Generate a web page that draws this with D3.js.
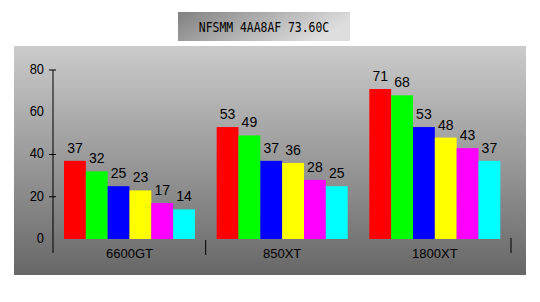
<!DOCTYPE html>
<html><head><meta charset="utf-8">
<script src="https://cdn.jsdelivr.net/npm/d3@7"></script>
<style>html,body{margin:0;padding:0;background:#fff;}svg{display:block;}</style>
</head><body>
<script>
const title = "NFSMM 4AA8AF 73.60C";
const categories = ["6600GT", "850XT", "1800XT"];
const series = ["s1", "s2", "s3", "s4", "s5", "s6"];
const colors = ["#ff0000", "#00ff00", "#0000ff", "#ffff00", "#ff00ff", "#00ffff"];
const values6600GT = [37, 32, 25, 23, 17, 14];
const values850XT = [53, 49, 37, 36, 28, 25];
const values1800XT = [71, 68, 53, 48, 43, 37];
const yTickLabels = [0, 20, 40, 60, 80];
const yTickMarks = [80, 40, 20];

const groups = [values6600GT, values850XT, values1800XT];

const W = 540, H = 302;
const svg = d3.select("body").append("svg").attr("width", W).attr("height", H);
const defs = svg.append("defs");
const pg = defs.append("linearGradient").attr("id", "panelG").attr("x1", 0).attr("y1", 0).attr("x2", 0).attr("y2", 1);
pg.append("stop").attr("offset", "0%").attr("stop-color", "#cbcbcb");
pg.append("stop").attr("offset", "100%").attr("stop-color", "#676767");
const tg = defs.append("linearGradient").attr("id", "titleG").attr("x1", 0).attr("y1", 0).attr("x2", 1).attr("y2", 0.3);
tg.append("stop").attr("offset", "0%").attr("stop-color", "#808080");
tg.append("stop").attr("offset", "100%").attr("stop-color", "#dedede");

const sans = "Liberation Sans, Arial, sans-serif";

// panel
svg.append("rect").attr("x", 14).attr("y", 46).attr("width", 512).attr("height", 229).attr("fill", "url(#panelG)");

// title box
svg.append("rect").attr("x", 178).attr("y", 12).attr("width", 172).attr("height", 29).attr("fill", "url(#titleG)");
svg.append("text").attr("x", 264).attr("y", 28).attr("text-anchor", "middle").attr("dominant-baseline", "middle")
  .attr("font-family", "DejaVu Sans Mono, monospace").attr("font-size", 12).attr("fill", "#000")
  .attr("transform", "translate(264,28) scale(0.95,1.15) translate(-264,-28)")
  .text(title);

const x0 = d3.scaleBand().domain(categories).range([53, 511]).paddingInner(0).paddingOuter(0);
const x1 = d3.scaleBand().domain(series).range([11, 142]);
const y = d3.scaleLinear().domain([0, 80]).range([239, 70]);

// y axis
svg.append("line").attr("x1", 53).attr("x2", 53).attr("y1", y(80)).attr("y2", 253).attr("stroke", "#000").attr("stroke-width", 1);
svg.selectAll(".ytm").data(yTickMarks).join("line").attr("x1", 49).attr("x2", 56)
  .attr("y1", d => y(d)).attr("y2", d => y(d)).attr("stroke", "#000");
svg.selectAll(".ytl").data(yTickLabels).join("text").attr("x", 44).attr("y", d => y(d))
  .attr("text-anchor", "end").attr("dominant-baseline", "middle")
  .attr("font-family", sans).attr("font-size", 14).attr("fill", "#000")
  .attr("transform", d => `translate(44,${y(d)}) scale(0.92,1.05) translate(-44,${-y(d)})`)
  .text(d => d);

// bars
const g = svg.selectAll(".grp").data(categories).join("g").attr("transform", d => `translate(${x0(d)},0)`);
g.each(function(cat, i) {
  const vals = groups[i];
  const gg = d3.select(this);
  gg.selectAll("rect").data(vals).join("rect")
    .attr("x", (v, j) => x1(series[j])).attr("width", x1.bandwidth())
    .attr("y", v => y(v)).attr("height", v => y(0) - y(v))
    .attr("fill", (v, j) => colors[j]);
  gg.selectAll("text.val").data(vals).join("text").attr("class", "val")
    .attr("x", (v, j) => x1(series[j]) + x1.bandwidth() / 2).attr("y", v => y(v) - 8)
    .attr("text-anchor", "middle")
    .attr("font-family", sans).attr("font-size", 14).attr("fill", "#000")
    .text(v => v);
  gg.append("text").attr("x", (x1.range()[0] + x1.range()[1]) / 2).attr("y", 255)
    .attr("text-anchor", "middle").attr("dominant-baseline", "middle")
    .attr("font-family", sans).attr("font-size", 13).attr("fill", "#000")
    .text(cat);
});

// category separator ticks
svg.append("line").attr("x1", x0(categories[1])).attr("x2", x0(categories[1])).attr("y1", 240).attr("y2", 255).attr("stroke", "#000");
svg.append("line").attr("x1", x0.range()[1]).attr("x2", x0.range()[1]).attr("y1", 238).attr("y2", 253).attr("stroke", "#000");
</script>
</body></html>
